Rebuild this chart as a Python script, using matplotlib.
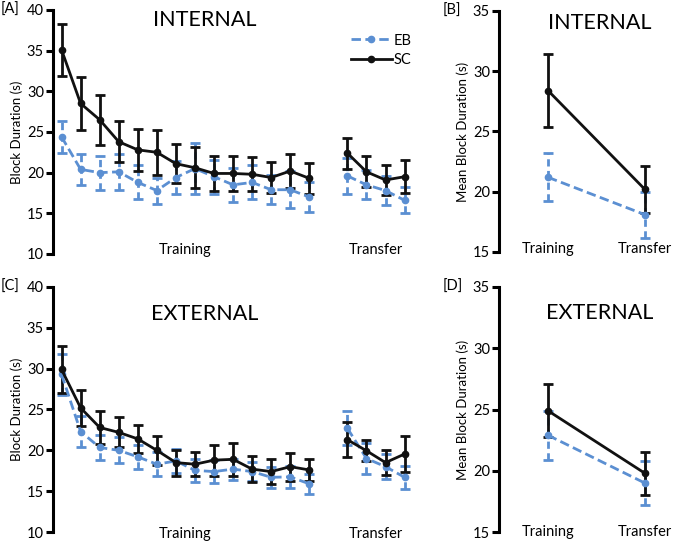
import numpy as np
import matplotlib.pyplot as plt
from matplotlib.lines import Line2D

plt.rcParams['font.family'] = ['Lato', 'DejaVu Sans']

# block index: training 1-14, transfer 16-19
train_x = np.arange(1, 15)
transfer_x = np.arange(16, 20)

# INTERNAL, per block
int_sc_train = [35.1, 28.5, 26.5, 23.8, 22.8, 22.5, 21.1, 20.6, 19.9, 19.9, 19.8, 19.4, 20.2, 19.3]
int_sc_train_err = [3.2, 3.3, 3.1, 2.5, 2.6, 2.8, 2.4, 2.5, 2.2, 2.2, 2.1, 1.9, 2.1, 1.9]
int_sc_trans = [22.4, 20.1, 19.1, 19.5]
int_sc_trans_err = [1.9, 1.9, 1.9, 2.0]
int_eb_train = [24.4, 20.4, 20.0, 20.1, 18.8, 17.8, 19.4, 20.5, 19.5, 18.5, 18.8, 17.9, 17.9, 17.0]
int_eb_train_err = [2.0, 1.9, 2.1, 2.2, 2.1, 1.6, 2.0, 3.1, 2.1, 2.1, 2.1, 1.8, 2.3, 1.85]
int_eb_trans = [19.6, 18.5, 17.8, 16.6]
int_eb_trans_err = [2.2, 1.8, 1.75, 1.6]

# EXTERNAL, per block
ext_sc_train = [29.9, 25.2, 22.8, 22.2, 21.4, 20.0, 18.5, 18.3, 18.8, 18.9, 17.7, 17.4, 18.0, 17.6]
ext_sc_train_err = [2.85, 2.2, 2.0, 1.85, 1.7, 1.8, 1.6, 1.45, 1.9, 2.0, 1.6, 1.55, 1.7, 1.35]
ext_sc_trans = [21.3, 19.95, 18.5, 19.55]
ext_sc_trans_err = [2.15, 1.3, 1.5, 2.2]
ext_eb_train = [29.3, 22.3, 20.35, 20.0, 19.2, 18.3, 18.7, 17.55, 17.4, 17.7, 17.4, 16.7, 16.75, 15.9]
ext_eb_train_err = [2.5, 1.9, 1.55, 1.6, 1.5, 1.45, 1.5, 1.45, 1.45, 1.3, 1.2, 1.25, 1.35, 1.25]
ext_eb_trans = [22.7, 19.0, 18.0, 16.7]
ext_eb_trans_err = [2.1, 1.95, 1.55, 1.4]

# means (training vs transfer)
phases = ['Training', 'Transfer']
int_sc_mean = [28.4, 20.2]
int_sc_mean_err = [3.0, 1.95]
int_eb_mean = [21.2, 18.1]
int_eb_mean_err = [2.0, 1.9]
ext_sc_mean = [24.9, 19.8]
ext_sc_mean_err = [2.15, 1.75]
ext_eb_mean = [22.9, 19.0]
ext_eb_mean_err = [2.0, 1.8]

blue = '#5b8fd2'
black = '#111111'
eb_dash = (0, (3.4, 1.6))
eb_style = dict(color=blue, ls=eb_dash, lw=2, marker='o', ms=4.5,
                capsize=3.5, elinewidth=2, capthick=2)
sc_style = dict(color=black, ls='-', lw=2, marker='o', ms=4.5,
                capsize=3.5, elinewidth=2, capthick=2)


def eb_errorbar(ax, x, y, e):
    cont = ax.errorbar(x, y, yerr=e, **eb_style)
    cont[2][0].set_linestyle((0, (2.6, 1.6)))
    return cont


def style_axis(ax, ylim, yticks):
    ax.set_ylim(*ylim)
    ax.set_yticks(yticks)
    for s in ['top', 'right', 'bottom']:
        ax.spines[s].set_visible(False)
    ax.spines['left'].set_linewidth(2.2)
    ax.tick_params(axis='y', width=2.2, length=5, labelsize=10.5, pad=1.5)
    ax.tick_params(axis='x', bottom=False, labelbottom=False)
    ax.patch.set_alpha(0)


def block_panel(ax, sc_tr, sc_tr_e, sc_tf, sc_tf_e, eb_tr, eb_tr_e, eb_tf, eb_tf_e,
                title, title_y, label_y, letter):
    eb_errorbar(ax, train_x, eb_tr, eb_tr_e)
    eb_errorbar(ax, transfer_x, eb_tf, eb_tf_e)
    ax.errorbar(train_x, sc_tr, yerr=sc_tr_e, **sc_style)
    ax.errorbar(transfer_x, sc_tf, yerr=sc_tf_e, **sc_style)
    ax.set_xlim(0.55, 19.5)
    style_axis(ax, (10, 40), [10, 15, 20, 25, 30, 35, 40])
    ax.set_ylabel('Block Duration (s)', fontsize=9.5, labelpad=3)
    ax.text(7.5, label_y, 'Training', ha='center', va='center', fontsize=10.5)
    ax.text(17.5, label_y, 'Transfer', ha='center', va='center', fontsize=10.5)
    ax.text(8.5, title_y, title, ha='center', va='center', fontsize=15.5)
    ax.text(-0.145, 1.0, letter, transform=ax.transAxes, ha='left', va='center', fontsize=10.5)


def mean_panel(ax, sc_m, sc_e, eb_m, eb_e, title, title_y, label_y, letter):
    xs = np.arange(len(phases))
    eb_errorbar(ax, xs, eb_m, eb_e)
    ax.errorbar(xs, sc_m, yerr=sc_e, **sc_style)
    ax.set_xlim(-0.505, 1.26)
    style_axis(ax, (15, 35), [15, 20, 25, 30, 35])
    ax.set_ylabel('Mean Block Duration (s)', fontsize=9.5, labelpad=3)
    for x, p in zip(xs, phases):
        ax.text(x, label_y, p, ha='center', va='center', fontsize=10.5)
    ax.text(0.53, title_y, title, ha='center', va='center', fontsize=15.5)
    ax.text(-0.33, 1.0, letter, transform=ax.transAxes, ha='left', va='center', fontsize=10.5)


fig = plt.figure(figsize=(6.75, 5.46), dpi=100)
axA = fig.add_axes([0.0785, 0.5348, 0.535, 0.447])
axB = fig.add_axes([0.7393, 0.5385, 0.2533, 0.4414])
axC = fig.add_axes([0.0785, 0.0256, 0.535, 0.4488])
axD = fig.add_axes([0.7393, 0.0256, 0.2533, 0.4488])

block_panel(axA, int_sc_train, int_sc_train_err, int_sc_trans, int_sc_trans_err,
            int_eb_train, int_eb_train_err, int_eb_trans, int_eb_trans_err,
            'INTERNAL', 38.8, 10.5, '[A]')
block_panel(axC, ext_sc_train, ext_sc_train_err, ext_sc_trans, ext_sc_trans_err,
            ext_eb_train, ext_eb_train_err, ext_eb_trans, ext_eb_trans_err,
            'EXTERNAL', 36.7, 9.8, '[C]')
mean_panel(axB, int_sc_mean, int_sc_mean_err, int_eb_mean, int_eb_mean_err,
           'INTERNAL', 34.0, 15.25, '[B]')
mean_panel(axD, ext_sc_mean, ext_sc_mean_err, ext_eb_mean, ext_eb_mean_err,
           'EXTERNAL', 32.9, 15.0, '[D]')

handles = [Line2D([], [], color=blue, ls=eb_dash, lw=2, marker='o', ms=4.5),
           Line2D([], [], color=black, ls='-', lw=2, marker='o', ms=4.5)]
axA.legend(handles, ['EB', 'SC'], loc='upper right', bbox_to_anchor=(1.02, 0.945),
           frameon=False, fontsize=10.5, handlelength=2.8, handletextpad=0.1,
           labelspacing=0.35, borderpad=0.2)

fig.savefig('out.png', dpi=100)
